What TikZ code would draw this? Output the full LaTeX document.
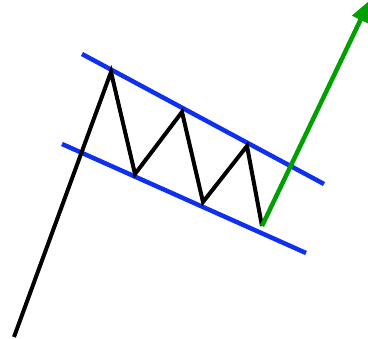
\documentclass[tikz,border=0pt]{standalone}
\usetikzlibrary{arrows.meta}
\definecolor{chan}{HTML}{1030F0}
\definecolor{breakout}{HTML}{00A000}
\tikzset{price/.style={draw=black,line width=4pt,line join=miter},chanline/.style={draw=chan,line width=4.5pt},upmove/.style={draw=breakout,line width=4.5pt,-{Triangle[length=22pt,width=18pt]}}}
\begin{document}
\begin{tikzpicture}[x=1pt,y=-1pt]
\useasboundingbox (0,0) rectangle (368,339);
\coordinate (s) at (14,337);
\coordinate (p1) at (111,72);
\coordinate (t1) at (135,174);
\coordinate (p2) at (182,112);
\coordinate (t2) at (203,202);
\coordinate (p3) at (247,146);
\coordinate (t3) at (262,226);
\coordinate (tip) at (370,0);
\coordinate (ua) at (82,54);
\coordinate (ub) at (324,184);
\coordinate (la) at (62,144);
\coordinate (lb) at (306,253);
\draw[chanline](ua)--(ub);\draw[chanline](la)--(lb);
\draw[price](s)--(p1)--(t1)--(p2)--(t2)--(p3)--(t3);
\draw[upmove](t3)--(tip);
\end{tikzpicture}
\end{document}
